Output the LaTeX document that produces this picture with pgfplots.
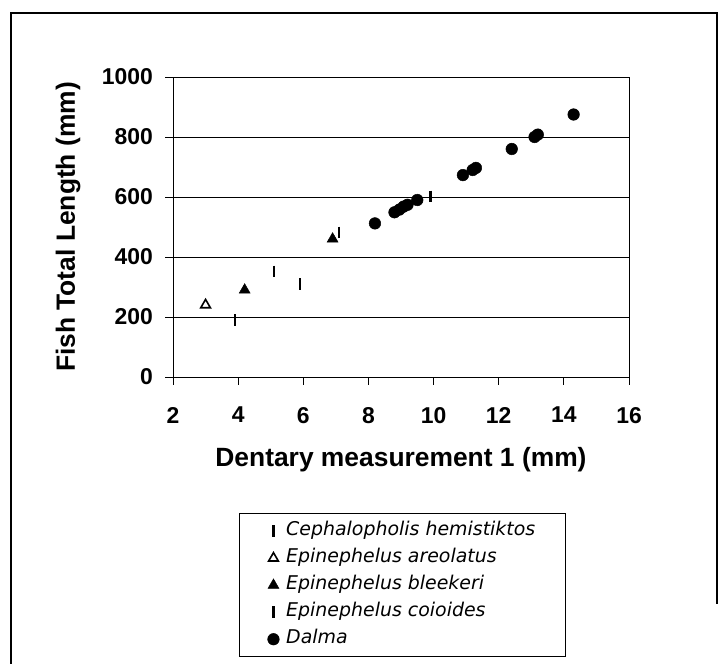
\documentclass[border=0pt]{standalone}
\usepackage{fontspec}
\setmainfont{Liberation Sans}
\newfontfamily\legfont{DejaVu Sans}
\usepackage{pgfplots}
\pgfplotsset{compat=1.18}
\begin{document}
\begin{tikzpicture}
\useasboundingbox (0bp,0bp) rectangle (726bp,664bp);
\draw[line width=2.5bp] (11bp,0bp) -- (11bp,651bp) -- (717bp,651bp) -- (717bp,60bp);
\begin{axis}[
  at={(173bp,287bp)}, anchor=south west,
  scale only axis, width=456bp, height=300bp,
  xmin=2, xmax=16, ymin=0, ymax=1000,
  xtick={2,4,6,8,10,12,14,16},
  ytick={0,200,400,600,800,1000},
  ymajorgrids,
  grid style={black, line width=0.8bp},
  axis line style={black, line width=0.9bp},
  tick style={black, line width=0.9bp},
  tick align=outside, major tick length=8bp,
  xtick pos=bottom, ytick pos=left,
  /pgf/number format/assume math mode=true,
  /pgf/number format/1000 sep={},
  ticklabel style={font=\fontsize{23}{27}\selectfont\bfseries, inner sep=0pt},
  xticklabel style={anchor=north, yshift=-22bp},
  yticklabel style={anchor=east, xshift=-12bp},
  xlabel={Dentary measurement 1 (mm)},
  ylabel={Fish Total Length (mm)},
  label style={font=\fontsize{26.5}{30}\selectfont\bfseries},
  xlabel style={at={(axis description cs:0.5,-0.2767)}, anchor=center},
  ylabel style={at={(axis description cs:-0.2303,0.5)}, anchor=center},
  clip=false,
  legend cell align=left,
  legend image code/.code={\path (-6bp,0bp) (6bp,0bp); \draw[#1] plot coordinates {(0bp,0bp)};},
  legend style={at={(axis description cs:0.1447,-0.4533)}, anchor=north west,
    draw=black, line width=1.5bp, fill=white,
    inner xsep=27bp, inner ysep=4bp, row sep=0pt, column sep=3bp,
    font=\legfont\itshape\fontsize{19}{22}\selectfont,
    nodes={text height=14bp, text depth=5bp, inner ysep=4bp, inner xsep=3bp}},
]
\addplot[only marks, mark=|, mark size=5.8bp, mark options={line width=2.5bp, draw=black}]
  coordinates {(3.9,190) (5.1,352) (5.9,310)};
\addlegendentry{Cephalopholis hemistiktos}
\addplot[only marks, mark=triangle, mark size=5.6bp, mark options={line width=1.6bp, draw=black, fill=white}]
  coordinates {(3.0,240)};
\addlegendentry{Epinephelus areolatus}
\addplot[only marks, mark=triangle*, mark size=6.3bp, mark options={line width=0.5bp, draw=black, fill=black}]
  coordinates {(4.2,290) (6.9,460)};
\addlegendentry{Epinephelus bleekeri}
\addplot[only marks, mark=|, mark size=5.8bp, mark options={line width=2.5bp, draw=black}]
  coordinates {(7.1,482) (9.9,602)};
\addlegendentry{Epinephelus coioides}
\addplot[only marks, mark=*, mark size=5.8bp, mark options={line width=0.5bp, draw=black, fill=black}]
  coordinates {(8.2,512) (8.8,549) (8.95,558) (9.08,568) (9.2,574) (9.5,590)
    (10.9,673) (11.2,690) (11.3,697) (12.4,760) (13.1,800) (13.2,808) (14.3,875)};
\addlegendentry{Dalma}
\end{axis}
\end{tikzpicture}
\end{document}
